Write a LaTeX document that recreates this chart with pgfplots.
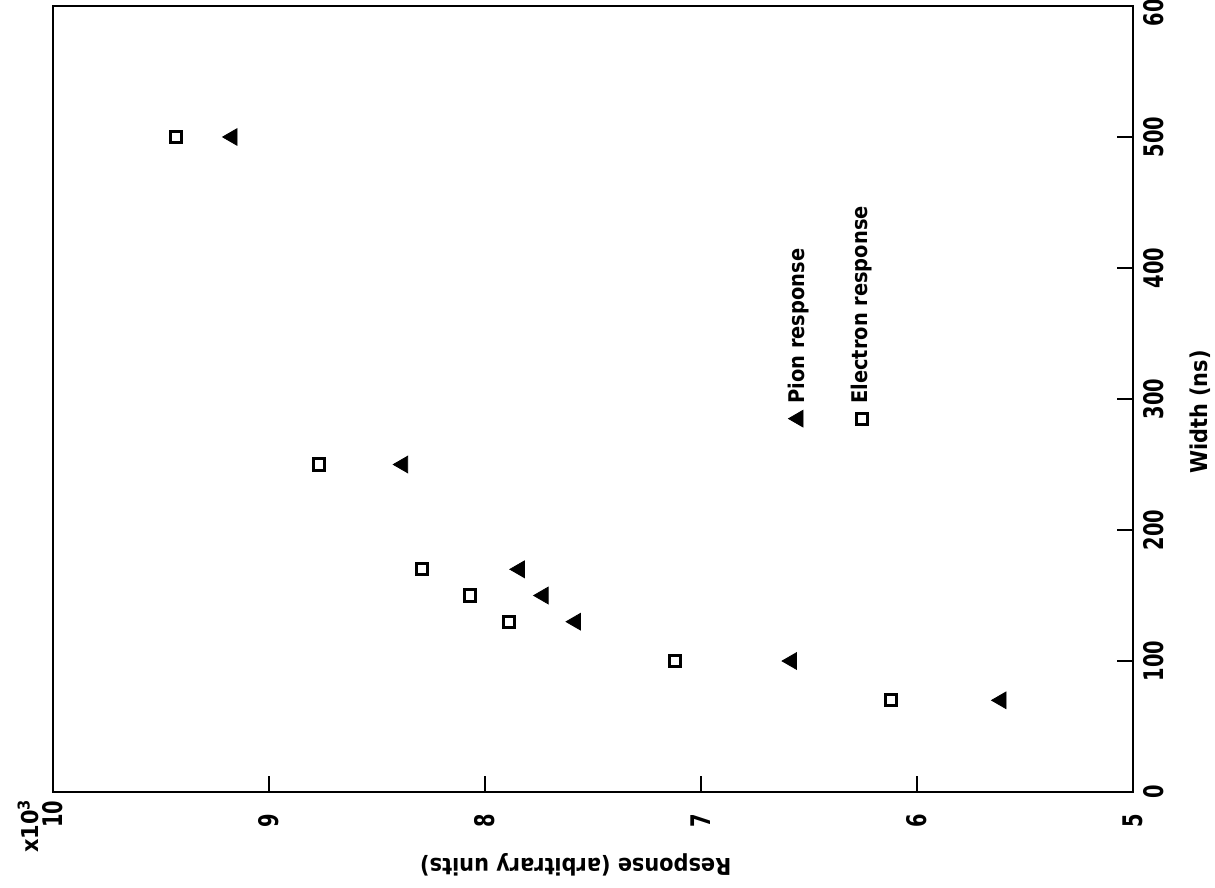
\documentclass[border=0pt]{standalone}
\usepackage{fontspec}
\setmainfont{DejaVu Sans}
\newfontfamily\labelfont{DejaVu Sans}[FakeStretch=0.9]
\newfontfamily\numfont{DejaVu Sans}[FakeStretch=0.72]
\usepackage{pgfplots}
\pgfplotsset{compat=1.18}

\newcommand\ticktext{\numfont\bfseries\fontsize{13.5}{14}\selectfont}
\newcommand\axistext{\labelfont\bfseries\fontsize{11.6}{13}\selectfont}
\newcommand\keytext{\labelfont\bfseries\fontsize{10.8}{12}\selectfont}

\begin{document}
\begin{tikzpicture}
\begin{axis}[
  scale only axis,
  width=540pt, height=393pt,
  xmin=5, xmax=10, x dir=reverse,
  ymin=0, ymax=600,
  xtick={5,6,7,8,9,10},
  xticklabels={5,6,7,8,9,10},
  ytick={0,100,200,300,400,500,600},
  yticklabels={0,100,200,300,400,500,600},
  xtick pos=left,
  ytick pos=right,
  yticklabel pos=right,
  tick align=inside,
  major tick length=8pt,
  axis line style={line width=0.7pt},
  every tick/.style={line width=0.7pt, black},
  xticklabel style={rotate=90, anchor=west, inner sep=0pt, font=\ticktext},
  xticklabel shift=18pt,
  yticklabel style={rotate=90, anchor=north, inner sep=0pt, font=\ticktext},
  yticklabel shift=5pt,
  clip=false,
]
% pion response
\addplot[only marks, mark=triangle*, mark size=4.8pt,
  mark options={rotate=90, fill=black, draw=black}]
  coordinates {(9.17,500) (8.38,250) (7.84,170) (7.73,150) (7.58,130) (6.58,100) (5.61,70)};
% electron response
\addplot[only marks, mark=square, mark size=2.8pt,
  mark options={draw=black, line width=1.5pt}]
  coordinates {(9.43,500) (8.77,250) (8.29,170) (8.07,150) (7.89,130) (7.12,100) (6.12,70)};

% key
\addplot[only marks, mark=triangle*, mark size=4.8pt,
  mark options={rotate=90, fill=black, draw=black}] coordinates {(6.55,285)};
\addplot[only marks, mark=square, mark size=2.8pt,
  mark options={draw=black, line width=1.5pt}] coordinates {(6.255,285)};
\node[rotate=90, anchor=west, inner sep=0pt, font=\keytext] at (axis cs:6.55,296) {Pion response};
\node[rotate=90, anchor=west, inner sep=0pt, font=\keytext] at (axis cs:6.255,296) {Electron response};

\coordinate (bl) at (axis cs:10,0);
\coordinate (br) at (axis cs:5,0);
\coordinate (tr) at (axis cs:5,600);
\coordinate (rl) at (axis cs:7.58,0);
\coordinate (wl) at (axis cs:5,290);
\end{axis}

\node[rotate=180, font=\axistext] at ([yshift=-36.5pt]rl) {Response (arbitrary units)};
\node[rotate=90, font=\axistext] at ([xshift=33.5pt]wl) {Width (ns)};
\node[rotate=90, font=\axistext] at ([shift={(-12.5pt,-17pt)}]bl) {x10\textsuperscript{3}};

\pgfresetboundingbox
\path ([shift={(-26.5pt,-47.5pt)}]bl) rectangle ([shift={(41pt,3pt)}]tr);
\end{tikzpicture}
\end{document}
